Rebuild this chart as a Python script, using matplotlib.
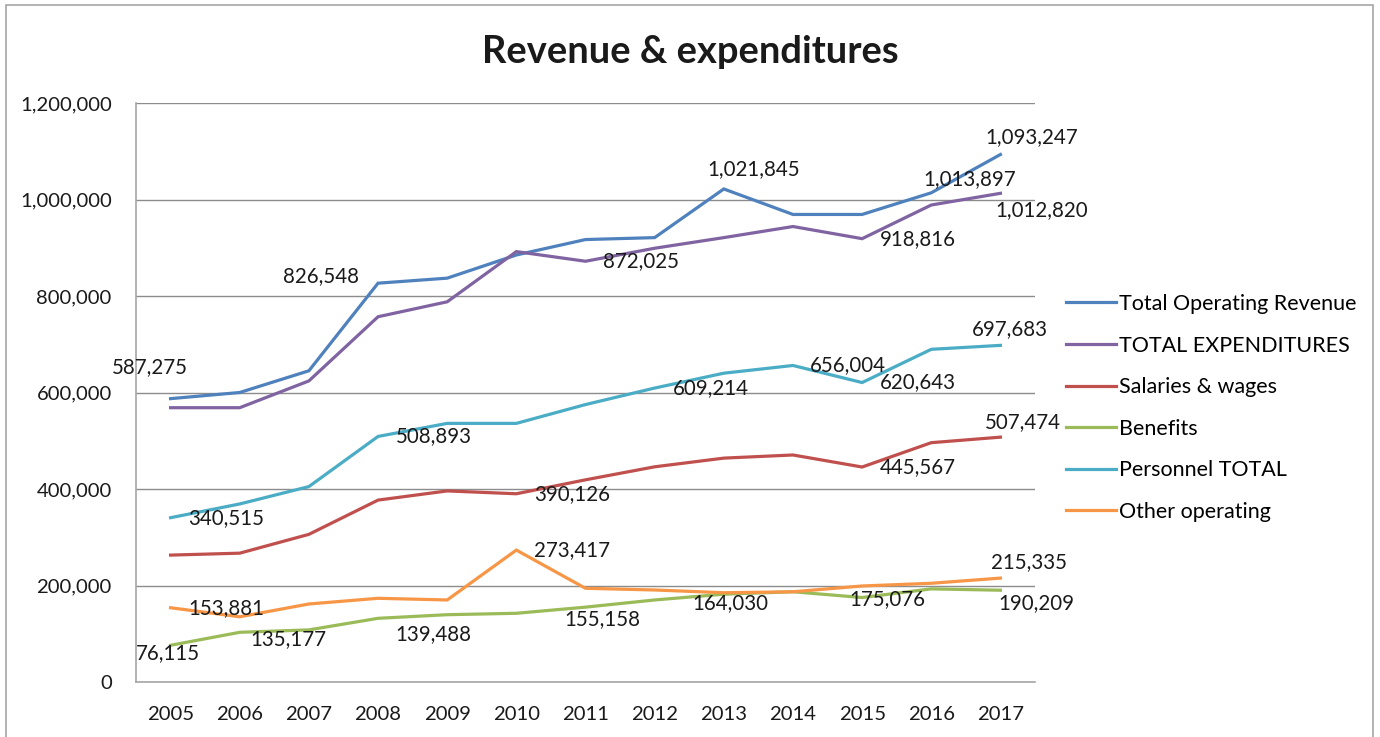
import matplotlib.pyplot as plt
from matplotlib.patches import Rectangle
from matplotlib.ticker import FuncFormatter

# data
years = [2005, 2006, 2007, 2008, 2009, 2010, 2011, 2012, 2013, 2014, 2015, 2016, 2017]
revenue = [587275, 600000, 645000, 826548, 837000, 885000, 917000, 921000, 1021845, 969000, 969000, 1013897, 1093247]
expenditures = [568500, 568500, 624000, 757000, 788000, 892000, 872025, 899000, 921000, 944000, 918816, 988600, 1012820]
salaries = [263000, 267000, 306000, 377000, 396000, 390126, 419000, 446000, 464000, 470500, 445567, 496000, 507474]
benefits = [76115, 103000, 108000, 132000, 139488, 142400, 155158, 170000, 182000, 187000, 175076, 193000, 190209]
personnel = [340515, 369000, 405000, 508893, 536000, 536000, 575000, 609214, 640000, 656004, 620643, 689500, 697683]
other = [153881, 135177, 161700, 173500, 170000, 273417, 194200, 190700, 185000, 187000, 199000, 204600, 215335]

series = {
    'Total Operating Revenue': revenue,
    'TOTAL EXPENDITURES': expenditures,
    'Salaries & wages': salaries,
    'Benefits': benefits,
    'Personnel TOTAL': personnel,
    'Other operating': other,
}
colors = ['#4F81BD', '#8064A2', '#C0504D', '#9BBB59', '#4BACC6', '#F79646']

# data labels shown on the chart: (series, year, text)
labels = [
    ('Total Operating Revenue', 2005, '587,275'),
    ('Total Operating Revenue', 2008, '826,548'),
    ('Total Operating Revenue', 2013, '1,021,845'),
    ('Total Operating Revenue', 2016, '1,013,897'),
    ('Total Operating Revenue', 2017, '1,093,247'),
    ('TOTAL EXPENDITURES', 2011, '872,025'),
    ('TOTAL EXPENDITURES', 2015, '918,816'),
    ('TOTAL EXPENDITURES', 2017, '1,012,820'),
    ('Personnel TOTAL', 2005, '340,515'),
    ('Personnel TOTAL', 2008, '508,893'),
    ('Personnel TOTAL', 2012, '609,214'),
    ('Personnel TOTAL', 2014, '656,004'),
    ('Personnel TOTAL', 2015, '620,643'),
    ('Personnel TOTAL', 2017, '697,683'),
    ('Salaries & wages', 2010, '390,126'),
    ('Salaries & wages', 2015, '445,567'),
    ('Salaries & wages', 2017, '507,474'),
    ('Benefits', 2005, '76,115'),
    ('Other operating', 2005, '153,881'),
    ('Other operating', 2006, '135,177'),
    ('Benefits', 2009, '139,488'),
    ('Other operating', 2010, '273,417'),
    ('Benefits', 2011, '155,158'),
    ('Benefits', 2013, '164,030'),
    ('Benefits', 2015, '175,076'),
    ('Benefits', 2017, '190,209'),
    ('Other operating', 2017, '215,335'),
]
# label offsets in pixels (dx, dy), same order as labels
offsets = [
    (-21, 32), (-57, 7), (30, 20), (38, 14), (31, 17),
    (56, 0), (56, 0), (41, -17),
    (56, 0), (56, 0), (56, 0), (55, 0), (56, 0), (9, 16),
    (56, 0), (56, 0), (22, 15),
    (-3, -8), (56, 0), (49, -22), (-14, -19), (56, 0), (17, -12), (7, -9), (25, -2), (36, -13), (29, 16),
]

plt.rcParams['font.family'] = ['Lato', 'DejaVu Sans']

fig = plt.figure(figsize=(13.8, 7.37), dpi=100)
ax = fig.add_axes([136 / 1380, 1 - 682 / 737, (1035 - 136) / 1380, (682 - 103) / 737])

for (name, vals), c in zip(series.items(), colors):
    ax.plot(years, vals, color=c, lw=2.3, label=name, solid_joinstyle='miter')

for (name, yr, txt), (dx, dy) in zip(labels, offsets):
    v = series[name][years.index(yr)]
    ax.annotate(txt, (yr, v), xytext=(dx, dy), textcoords='offset pixels',
                ha='center', va='center', fontsize=14.8, color='#1a1a1a')

ax.set_xlim(2004.5, 2017.5)
ax.set_ylim(0, 1200000)
ax.set_xticks(years)
ax.set_yticks(range(0, 1200001, 200000))
ax.yaxis.set_major_formatter(FuncFormatter(lambda v, p: f'{int(v):,}'))
ax.tick_params(length=0, labelsize=14.6, colors='#1a1a1a')
ax.tick_params(axis='y', pad=17.5)
ax.tick_params(axis='x', pad=17)
ax.grid(axis='y', color='#8c8c8c', lw=1)
ax.set_axisbelow(True)
for s in ['top', 'right']:
    ax.spines[s].set_visible(False)
for s in ['left', 'bottom']:
    ax.spines[s].set_color('#a6a6a6')
    ax.spines[s].set_linewidth(1.2)

fig.text(0.5, 0.930, 'Revenue & expenditures', ha='center', va='center',
         fontsize=27.4, fontweight='bold', color='#1a1a1a')

fig.legend(loc='upper left', bbox_to_anchor=(1066 / 1380, 1 - 294 / 737), frameon=False,
           fontsize=15.5, handlelength=2.3, handletextpad=0.15, labelspacing=1.0,
           borderpad=0, borderaxespad=0)

fig.patches.append(Rectangle((6 / 1380, -0.01), (1373 - 6) / 1380, 1.01 - 5 / 737,
                             transform=fig.transFigure, fill=False,
                             edgecolor='#a6a6a6', lw=1.2))

fig.savefig('out.png', dpi=100)
